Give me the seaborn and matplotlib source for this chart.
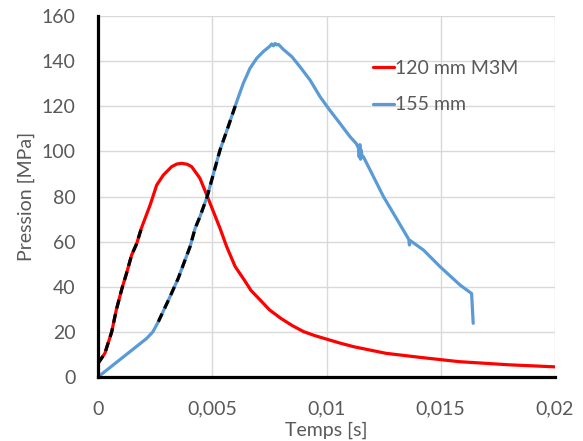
import matplotlib
matplotlib.use("Agg")
import matplotlib.pyplot as plt
from matplotlib.lines import Line2D
from matplotlib.ticker import FuncFormatter, MultipleLocator
import pandas as pd
import seaborn as sns

# 120 mm M3M pressure curve (time in s, pressure in MPa)
red_t = [0, 0.0003, 0.0006, 0.0008, 0.00105, 0.00125, 0.00147, 0.0017, 0.0019,
         0.00228, 0.00257, 0.00286, 0.00322, 0.00345, 0.00366, 0.0039, 0.0041,
         0.00446, 0.00476, 0.00505, 0.00534, 0.00563, 0.006, 0.0064, 0.0067,
         0.0071, 0.0075, 0.008, 0.0085, 0.009, 0.0095, 0.010, 0.0106, 0.0112,
         0.0126, 0.0141, 0.0158, 0.018, 0.02]
red_p = [6, 10.5, 20, 29.7, 39.3, 46, 54, 59.3, 66,
         76.2, 85.1, 89.5, 93.2, 94.4, 94.7, 94.3, 93.2,
         88.1, 80.7, 73.3, 65.9, 57.8, 49, 43, 38.3,
         34.1, 29.8, 26, 22.8, 20.1, 18.3, 16.8, 15, 13.4,
         10.5, 8.7, 6.8, 5.4, 4.5]

# 155 mm pressure curve
blue_t = [0, 0.00213, 0.0024, 0.00264, 0.00308, 0.00351, 0.00403, 0.00425, 0.00446,
          0.00478, 0.00505, 0.00534, 0.0057, 0.00607, 0.00636, 0.00665, 0.00695,
          0.00723, 0.00753, 0.0076, 0.00768, 0.00775, 0.00782, 0.0079, 0.00811,
          0.00848, 0.00884, 0.00928, 0.00972, 0.01008, 0.01059, 0.01103, 0.0113,
          0.0114, 0.01143, 0.01146, 0.01149, 0.01152, 0.01156, 0.01161, 0.01198,
          0.01249, 0.01314, 0.0136, 0.01363, 0.01366, 0.01424, 0.01497, 0.01584,
          0.01635, 0.01642]
blue_p = [0, 17.1, 20, 24.5, 34, 43.7, 57.8, 65.9, 71,
          80, 90, 100.6, 111, 122, 130.2, 136.8, 141.3,
          144.2, 146.7, 147.6, 146.8, 147.8, 147.2, 147.4, 145.2,
          142, 137.5, 131.6, 124.2, 119.1, 112.4, 106.5, 103.5,
          101.5, 97.5, 103, 96.5, 100.5, 97.5, 97.7, 90.3,
          80, 68.9, 61, 58.5, 60.5, 56.3, 48.9, 40.8,
          37, 23.8]

series_names = ["120 mm M3M", "155 mm"]
series_colors = ["#FF0000", "#5B9BD5"]

# fitted sections shown as black dashes
red_fit_end = 0.0019
blue_fit_range = (0.0025, 0.0061)

df = pd.concat([
    pd.DataFrame({"t": red_t, "p": red_p, "serie": series_names[0]}),
    pd.DataFrame({"t": blue_t, "p": blue_p, "serie": series_names[1]}),
], ignore_index=True)

fit = pd.concat([
    df[(df.serie == series_names[0]) & (df.t <= red_fit_end)].assign(part="a"),
    df[(df.serie == series_names[1]) & (df.t >= blue_fit_range[0])
       & (df.t <= blue_fit_range[1])].assign(part="b"),
], ignore_index=True)

sns.set_style("white")
plt.rcParams["font.family"] = ["Lato", "DejaVu Sans"]

fig = plt.figure(figsize=(5.83, 4.41), dpi=100)
ax = fig.add_axes([98 / 583, 64 / 441, 457 / 583, 361 / 441])

sns.lineplot(data=df, x="t", y="p", hue="serie", hue_order=series_names,
             palette=series_colors, estimator=None, sort=False,
             linewidth=2.3, legend=False, ax=ax)
sns.lineplot(data=fit, x="t", y="p", units="part", estimator=None, sort=False,
             color="black", linewidth=2.3, linestyle=(0, (2.8, 1.8)),
             legend=False, ax=ax)

ax.set_xlim(0, 0.02)
ax.set_ylim(0, 160)
ax.xaxis.set_major_locator(MultipleLocator(0.005))
ax.yaxis.set_major_locator(MultipleLocator(20))
ax.xaxis.set_major_formatter(FuncFormatter(lambda v, _: f"{v:g}".replace(".", ",")))

ax.grid(True, color="#D9D9D9", linewidth=1)
ax.set_axisbelow(True)
for s in ["top", "right"]:
    ax.spines[s].set_visible(False)
for s in ["left", "bottom"]:
    ax.spines[s].set_color("black")
    ax.spines[s].set_linewidth(2.3)

grey = "#595959"
ax.tick_params(axis="both", length=0, labelsize=14, labelcolor=grey)
ax.tick_params(axis="y", pad=16)
ax.tick_params(axis="x", pad=17)
ax.set_xlabel("Temps [s]", fontsize=14, color=grey, labelpad=3)
ax.set_ylabel("Pression [MPa]", fontsize=14, color=grey, labelpad=5)

handles = [Line2D([], [], color=c, linewidth=2.3) for c in series_colors]
leg = ax.legend(handles, series_names, loc="upper left",
                bbox_to_anchor=(0.602, 0.878), frameon=False, fontsize=14,
                handlelength=1.05, handletextpad=0.1, labelspacing=1.0,
                borderpad=0, borderaxespad=0)
for t in leg.get_texts():
    t.set_color(grey)

fig.savefig("out.png", dpi=100)
